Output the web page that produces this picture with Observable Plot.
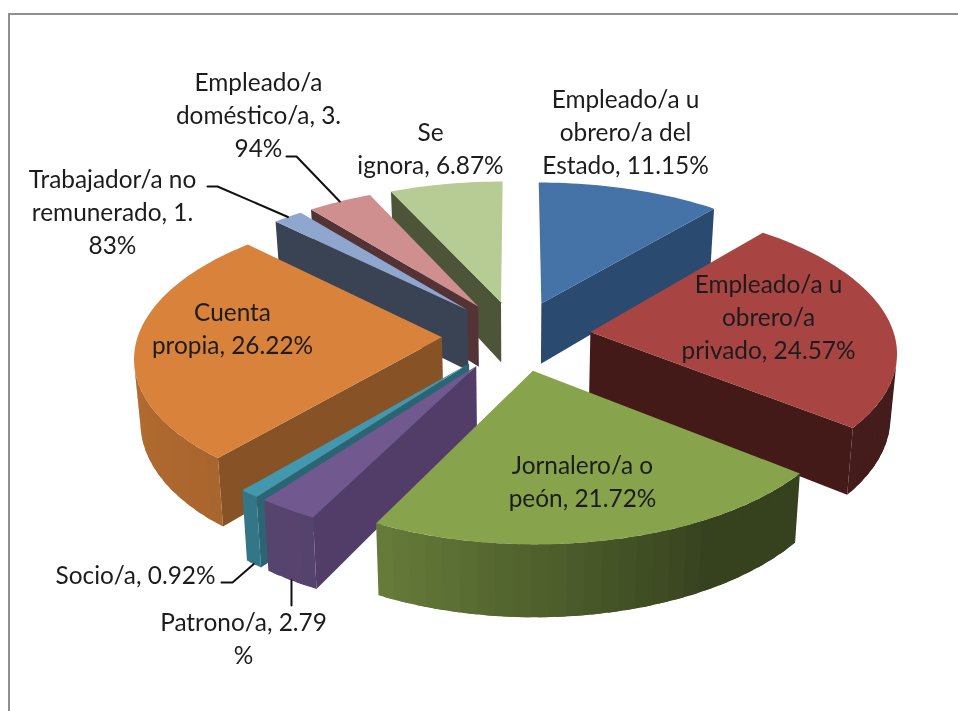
<!DOCTYPE html>
<html><head><meta charset="utf-8">
<style>
html,body{margin:0;padding:0;background:#fff;overflow:hidden}
#frame{position:absolute;left:8px;top:13px;right:-4px;bottom:-4px;border:2px solid #8f8f8f;filter:blur(.4px)}
#chart{position:absolute;left:0;top:0;width:958px;height:711px;filter:blur(.4px)}
</style>
<script src="https://cdn.jsdelivr.net/npm/d3@7"></script>
<script src="https://cdn.jsdelivr.net/npm/@observablehq/plot@0.6"></script>
</head><body>
<div id="frame"></div><div id="chart"></div>
<script>
// ---- data ----
const categories = ["Empleado/a u obrero/a del Estado","Empleado/a u obrero/a privado","Jornalero/a o peón","Patrono/a","Socio/a","Cuenta propia","Trabajador/a no remunerado","Empleado/a doméstico/a","Se ignora"];
const percentages = [11.15,24.57,21.72,2.79,0.92,26.22,1.83,3.94,6.87];
const labelTexts = ["Empleado/a u\nobrero/a del\nEstado, 11.15%","Empleado/a u\nobrero/a\nprivado, 24.57%","Jornalero/a o\npeón, 21.72%","Patrono/a, 2.79\n%","Socio/a, 0.92%","Cuenta\npropia, 26.22%","Trabajador/a no\nremunerado, 1.\n83%","Empleado/a\ndoméstico/a, 3.\n94%","Se\nignora, 6.87%"];
// ---- styling ----
const topColors  = ["#4572a7","#a84543","#87a34c","#71588f","#4198af","#d9823b","#8fa6cf","#cf8f8e","#b7cb94"];
const wallColors = ["#2b4a6f","#431a18","#38401e","#523d68","#2b6475","#875225","#394353","#533336","#4d5538"];
const paintOrder = [8,0,7,6,5,4,3,1,2];
const labelCentres = [[625,130],[768,315],[582,479],[243,636],[135,573],[232,326],[112,210],[258,113],[430,146]];
const leaderStarts = {3:[[291,605]],4:[[221,582],[232,582]],6:[[207,186],[217,186]],7:[[286,156],[296,156]]};
const leaderOnBase = {3:1,4:1,6:0,7:0};
// ---- pie geometry ----
const cx=516, cy=335, pxX=304, pxY=143;
const explode=.245, persp=.122, depth=.433, taper=.017;
const total=d3.sum(percentages);
const project=(X,Y,z)=>{const s=1/(1-persp*Y);return [X*s*(1-taper*z),(Y+z*depth)*s];};
let acc=0;
const slices=percentages.map((v,i)=>{const a0=acc/total*360;acc+=v;const a1=acc/total*360;const mid=(a0+a1)/2*Math.PI/180;
  return {i,a0,a1,ex:explode*Math.sin(mid),ey:-explode*Math.cos(mid)};});
const rim=(sl,a,z)=>{const r=a*Math.PI/180;return project(sl.ex+Math.sin(r),sl.ey-Math.cos(r),z);};
const apex=(sl,z)=>project(sl.ex,sl.ey,z);
const area=q=>d3.polygonArea(q);
const shade=a=>a<=150?.40:a<=206?.40+(a-150)/56*.36:a<=280?.76+(a-206)/74*.09:.85;
const dim=(c,f)=>{const k=d3.rgb(c);return d3.rgb(k.r*f,k.g*f,k.b*f).formatHex();};
const rows=[];let uid=0;
const addPoly=(pts,fill)=>{const id=uid++;pts.forEach(p=>rows.push({id,x:p[0],y:p[1],fill}));};
for(const i of paintOrder){
  const sl=slices[i];
  const steps=Math.max(2,Math.ceil((sl.a1-sl.a0)/3));
  const da=(sl.a1-sl.a0)/steps;
  const wall=(p,q,fill)=>{const quad=[p(0),q(0),q(1),p(1)];if(area(quad)>.012)addPoly(quad,fill);};
  wall(z=>apex(sl,z),z=>rim(sl,sl.a0,z),wallColors[i]);
  wall(z=>rim(sl,sl.a1,z),z=>apex(sl,z),wallColors[i]);
  for(let k=0;k<steps;k++){
    const b0=sl.a0+da*k, b1=Math.min(sl.a1,b0+da*1.6);
    const pts=d3.range(5).map(n=>b0+(b1-b0)*n/4);
    const front=pts.map(a=>rim(sl,a,0)), back=pts.map(a=>rim(sl,a,1)).reverse();
    const poly=[...front,...back];
    if(area(poly)>0) addPoly(poly,dim(topColors[i],shade(b0+da/2)));
  }
  const n=Math.ceil((sl.a1-sl.a0)/1.5)+1;
  addPoly([apex(sl,0),...d3.range(n+1).map(k=>rim(sl,sl.a0+(sl.a1-sl.a0)*k/n,0))],topColors[i]);
}
// ---- leaders ----
const toX=px=>(px-cx)/pxX, toY=py=>(py-cy)/pxY;
const leaders=[];
for(const key of Object.keys(leaderStarts)){
  const i=+key,sl=slices[i];
  leaderStarts[i].forEach(p=>leaders.push({i,x:toX(p[0]),y:toY(p[1])}));
  const e=rim(sl,(sl.a0+sl.a1)/2,leaderOnBase[i]);
  leaders.push({i,x:e[0],y:e[1]});
}
const font="Lato, 'Open Sans', sans-serif";
const labels=labelTexts.map((t,i)=>Plot.text([t],{
  text:d=>d,frameAnchor:"top-left",dx:labelCentres[i][0],dy:labelCentres[i][1],
  textAnchor:"middle",lineAnchor:"middle",lineHeight:1.35,fontSize:24.4,fontFamily:font,fill:"#1c1c1c"}));
const chart=Plot.plot({
  width:958,height:711,margin:0,
  style:{background:"transparent",overflow:"visible"},
  x:{domain:[-1,1],range:[cx-pxX,cx+pxX],axis:null},
  y:{domain:[-1,1],range:[cy-pxY,cy+pxY],axis:null},
  color:{type:"identity"},
  marks:[
    Plot.line(rows,{x:"x",y:"y",z:"id",fill:"fill",stroke:"none",curve:"linear-closed"}),
    Plot.line(leaders,{x:"x",y:"y",z:"i",stroke:"#111",strokeWidth:2,curve:"linear"}),
    ...labels
  ]
});
document.getElementById("chart").appendChild(chart);
</script>
</body></html>
